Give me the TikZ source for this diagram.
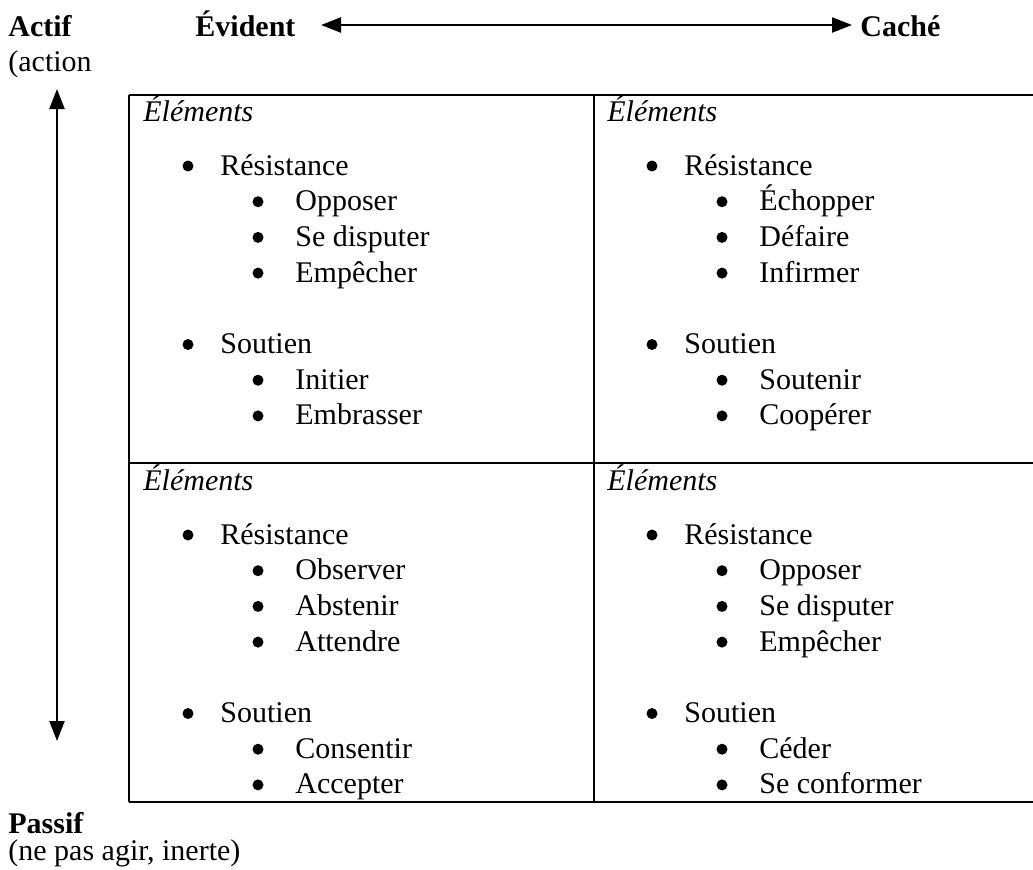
\documentclass[tikz,border=0pt]{standalone}
\usepackage{fontspec}
\setmainfont{Liberation Serif}
\usetikzlibrary{arrows.meta}

% one quadrant of the grid: #1 name, #2 left edge of the cell, #3 baseline of "Résistance"
% #4-#6 resistance items, #7-#8 support items
\newcommand\quadrant[8]{%
  \node[txt,font=\bodyfont\itshape] (#1-head) at (#2+14,#3-53.5) {Éléments};
  \node[dot] (#1-rdot) at (#2+59,#3-9) {};
  \node[txt] (#1-r) at (#2+91,#3) {Résistance};
  \node[dot] (#1-r1dot) at (#2+129,#3+35.7-9) {};
  \node[txt] (#1-r1) at (#2+166,#3+35.7) {#4};
  \node[dot] (#1-r2dot) at (#2+129,#3+71.4-9) {};
  \node[txt] (#1-r2) at (#2+166,#3+71.4) {#5};
  \node[dot] (#1-r3dot) at (#2+129,#3+107.1-9) {};
  \node[txt] (#1-r3) at (#2+166,#3+107.1) {#6};
  \node[dot] (#1-sdot) at (#2+59,#3+178.5-9) {};
  \node[txt] (#1-s) at (#2+91,#3+178.5) {Soutien};
  \node[dot] (#1-s1dot) at (#2+129,#3+214.2-9) {};
  \node[txt] (#1-s1) at (#2+166,#3+214.2) {#7};
  \node[dot] (#1-s2dot) at (#2+129,#3+249.9-9) {};
  \node[txt] (#1-s2) at (#2+166,#3+249.9) {#8};
}
\newcommand\bodyfont{\fontsize{15}{18}\selectfont}

\begin{document}
\begin{tikzpicture}[x=0.5pt,y=-0.5pt,
  txt/.style={anchor=base west, inner sep=0pt, font=\bodyfont},
  hd/.style={txt, font=\bodyfont\bfseries},
  dot/.style={circle, fill=black, inner sep=0pt, minimum size=5.5pt},
  rule/.style={line width=1pt},
  axis/.style={line width=1.1pt,
    {Triangle[length=10pt,width=7.5pt]}-{Triangle[length=10pt,width=7.5pt]}}]

\useasboundingbox (0,0) rectangle (1033,869);

% axis labels
\node[hd] (actif) at (8,36) {Actif};
\node[txt] (action) at (8,71) {(action};
\node[hd] (evident) at (195,36) {Évident};
\node[hd] (cache) at (860,36) {Caché};
\node[hd] (passif) at (8,833) {Passif};
\node[txt] (inerte) at (8,860) {(ne pas agir, inerte)};

% axes
\coordinate (hl) at (321,25);
\coordinate (hr) at (852,25);
\coordinate (vt) at (57,89);
\coordinate (vb) at (57,741);
\draw[axis] (hl) -- (hr);
\draw[axis] (vt) -- (vb);

% grid
\coordinate (g00) at (129,95);
\coordinate (g10) at (594,95);
\coordinate (g20) at (1033,95);
\coordinate (g01) at (129,463);
\coordinate (g11) at (594,463);
\coordinate (g21) at (1033,463);
\coordinate (g02) at (129,802);
\coordinate (g12) at (594,802);
\coordinate (g22) at (1033,802);
\draw[rule] (g00) -- (g20);
\draw[rule] (g01) -- (g21);
\draw[rule] (g02) -- (g22);
\draw[rule] (g00) -- (g02);
\draw[rule] (g10) -- (g12);

% quadrants
\quadrant{tl}{129}{175}{Opposer}{Se disputer}{Empêcher}{Initier}{Embrasser}
\quadrant{tr}{593}{175}{Échopper}{Défaire}{Infirmer}{Soutenir}{Coopérer}
\quadrant{bl}{129}{544}{Observer}{Abstenir}{Attendre}{Consentir}{Accepter}
\quadrant{br}{593}{544}{Opposer}{Se disputer}{Empêcher}{Céder}{Se conformer}

\end{tikzpicture}
\end{document}
